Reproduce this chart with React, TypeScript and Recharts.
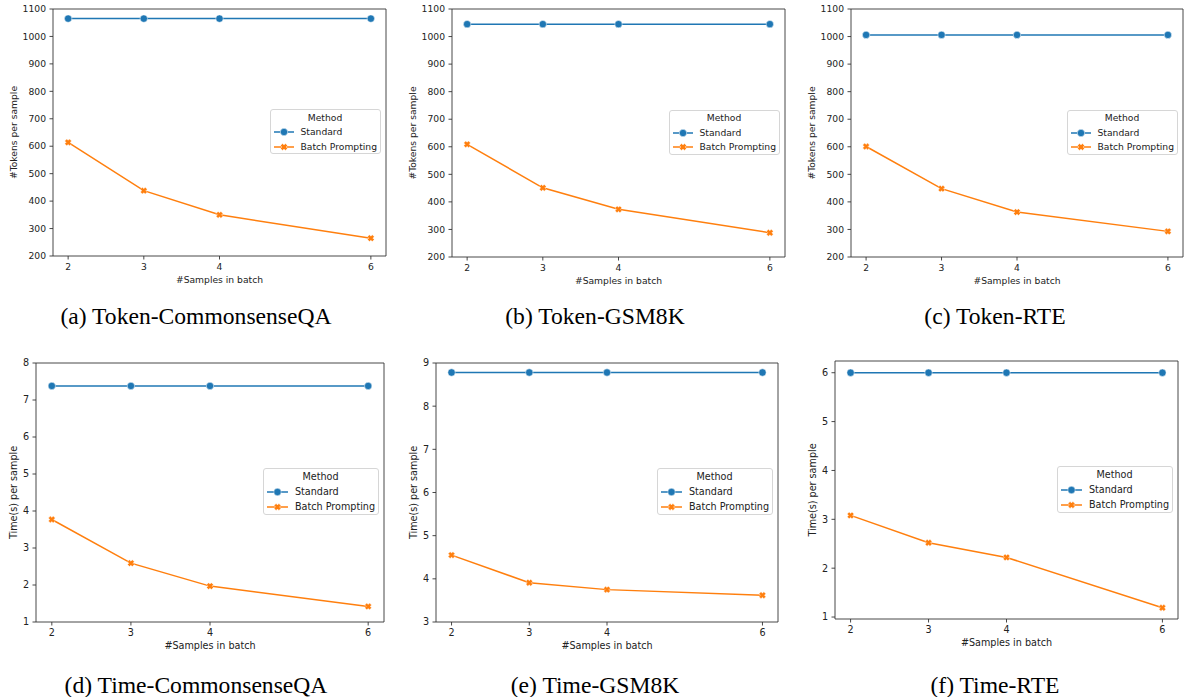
import React from 'react';
import { LineChart, Line, XAxis, YAxis, ReferenceArea, Legend } from 'recharts';

// x values shared by every panel
const batchSizes = [2, 3, 4, 6];
const xTicks = [2, 3, 4, 6];

// token counts per sample
const tokenCsqaStandard = [1065, 1065, 1065, 1065];
const tokenCsqaBatch = [614, 438, 350, 265];
const tokenGsmStandard = [1045, 1045, 1045, 1045];
const tokenGsmBatch = [609, 451, 373, 288];
const tokenRteStandard = [1006, 1006, 1006, 1006];
const tokenRteBatch = [601, 448, 363, 293];

// seconds per sample
const timeCsqaStandard = [7.38, 7.38, 7.38, 7.38];
const timeCsqaBatch = [3.77, 2.59, 1.97, 1.42];
const timeGsmStandard = [8.78, 8.78, 8.78, 8.78];
const timeGsmBatch = [4.55, 3.91, 3.75, 3.62];
const timeRteStandard = [6.0, 6.0, 6.0, 6.0];
const timeRteBatch = [3.08, 2.52, 2.22, 1.19];

const tokenTicks = [200, 300, 400, 500, 600, 700, 800, 900, 1000, 1100];
const csqaTimeTicks = [1, 2, 3, 4, 5, 6, 7, 8];
const gsmTimeTicks = [3, 4, 5, 6, 7, 8, 9];
const rteTimeTicks = [1, 2, 3, 4, 5, 6];

const seriesNames = ['Standard', 'Batch Prompting'];
const legendTitle = 'Method';
const xLabel = '#Samples in batch';

const BLUE = '#1f77b4';
const ORANGE = '#ff7f0e';
const INK = '#333333';
const TEXT = '#222222';
const FONT = '"DejaVu Sans", sans-serif';
const SERIF = '"Liberation Serif", "Times New Roman", serif';

const X_DOMAIN: [number, number] = [1.8, 6.2];

const panels = [
  { caption: '(a) Token-CommonsenseQA', yLabel: '#Tokens per sample', standard: tokenCsqaStandard, batch: tokenCsqaBatch, yDomain: [200, 1100], yTicks: tokenTicks, l: 53, t: 9, w: 333, h: 247, labelOff: 39.5, fs: 9.2, capX: 196, capTop: 305 },
  { caption: '(b) Token-GSM8K', yLabel: '#Tokens per sample', standard: tokenGsmStandard, batch: tokenGsmBatch, yDomain: [200, 1100], yTicks: tokenTicks, l: 452, t: 9, w: 333, h: 248, labelOff: 39.5, fs: 9.2, capX: 595, capTop: 305 },
  { caption: '(c) Token-RTE', yLabel: '#Tokens per sample', standard: tokenRteStandard, batch: tokenRteBatch, yDomain: [200, 1100], yTicks: tokenTicks, l: 851, t: 9, w: 332, h: 248, labelOff: 39.5, fs: 9.2, capX: 995, capTop: 305 },
  { caption: '(d) Time-CommonsenseQA', yLabel: 'Time(s) per sample', standard: timeCsqaStandard, batch: timeCsqaBatch, yDomain: [1, 8], yTicks: csqaTimeTicks, l: 36, t: 363, w: 348, h: 259, labelOff: 23, fs: 9.65, capX: 196, capTop: 673.5 },
  { caption: '(e) Time-GSM8K', yLabel: 'Time(s) per sample', standard: timeGsmStandard, batch: timeGsmBatch, yDomain: [3, 9], yTicks: gsmTimeTicks, l: 436, t: 363, w: 342, h: 259, labelOff: 23, fs: 9.65, capX: 595, capTop: 673.5 },
  { caption: '(f) Time-RTE', yLabel: 'Time(s) per sample', standard: timeRteStandard, batch: timeRteBatch, yDomain: [0.96, 6.24], yTicks: rteTimeTicks, l: 835, t: 361, w: 343, h: 258, labelOff: 23, fs: 9.65, capX: 995, capTop: 673.5 },
];

// filled "X" marker, like matplotlib's 'X'
const xPath = (cx: number, cy: number, s: number) => {
  const L = 1, w = 0.42;
  const pts = [[w, w], [w, L], [-w, L], [-w, w], [-L, w], [-L, -w], [-w, -w], [-w, -L], [w, -L], [w, -w], [L, -w], [L, w]];
  const c = Math.SQRT1_2;
  return pts.map(([x, y], i) => `${i ? 'L' : 'M'}${cx + s * (x - y) * c},${cy + s * (x + y) * c}`).join('') + 'Z';
};

const circleDot = (props: any) => {
  const { cx, cy, index } = props;
  if (cx == null || cy == null) return <g key={`c-${index}`} />;
  return <circle key={`c-${index}`} cx={cx} cy={cy} r={3.7} fill={BLUE} stroke="#fff" strokeWidth={0.5} />;
};

const crossDot = (props: any) => {
  const { cx, cy, index } = props;
  if (cx == null || cy == null) return <g key={`x-${index}`} />;
  return <path key={`x-${index}`} d={xPath(cx, cy, 3.4)} fill={ORANGE} stroke="#fff" strokeWidth={0.4} />;
};

const MethodLegend = ({ fs, w, h }: { fs: number; w: number; h: number }) => {
  const k = fs / 9.2;
  const rows = [
    { name: seriesNames[0], color: BLUE, kind: 'circle', cy: 22 * k },
    { name: seriesNames[1], color: ORANGE, kind: 'x', cy: 36.5 * k },
  ];
  const hw = 20 * k;
  return (
    <div style={{ position: 'relative', width: w, height: h, boxSizing: 'border-box', border: '1px solid #d6d6d6', borderRadius: 3, background: 'rgba(255,255,255,0.85)', fontFamily: FONT, fontSize: fs, color: TEXT }}>
      <div style={{ position: 'absolute', left: 0, width: '100%', top: 7.8 * k - 7, height: 14, lineHeight: '14px', textAlign: 'center' }}>{legendTitle}</div>
      {rows.map((r) => (
        <div key={r.name} style={{ position: 'absolute', left: 3 * k, top: r.cy - 7, height: 14, display: 'flex', alignItems: 'center', whiteSpace: 'nowrap' }}>
          <svg width={hw} height={14} style={{ display: 'block' }}>
            <line x1={0} x2={hw} y1={7} y2={7} stroke={r.color} strokeWidth={1.5} />
            {r.kind === 'circle' ? (
              <circle cx={hw / 2} cy={7} r={3.7} fill={r.color} stroke="#fff" strokeWidth={0.5} />
            ) : (
              <path d={xPath(hw / 2, 7, 3.4)} fill={r.color} stroke="#fff" strokeWidth={0.4} />
            )}
          </svg>
          <span style={{ marginLeft: 7 * k, lineHeight: '14px' }}>{r.name}</span>
        </div>
      ))}
    </div>
  );
};

const Panel = ({ p }: { p: (typeof panels)[number] }) => {
  const data = batchSizes.map((n, i) => ({ n, standard: p.standard[i], batch: p.batch[i] }));
  const W = p.w + 70;
  const H = p.h + 50;
  const k = p.fs / 9.2;
  const legendW = Math.round(111 * k);
  const legendH = Math.round(45 * k);
  const tickStyle = { fill: TEXT, fontSize: p.fs, fontFamily: FONT };

  const XTitle = () => (
    <text x={60 + p.w / 2} y={10 + p.h + 23.5} textAnchor="middle" dominantBaseline="central" fill={TEXT} fontSize={p.fs} fontFamily={FONT}>
      {xLabel}
    </text>
  );
  const yx = 60 - p.labelOff;
  const yy = 10 + p.h / 2;
  const YTitle = () => (
    <text x={yx} y={yy} transform={`rotate(-90, ${yx}, ${yy})`} textAnchor="middle" dominantBaseline="central" fill={TEXT} fontSize={p.fs} fontFamily={FONT}>
      {p.yLabel}
    </text>
  );

  return (
    <div style={{ position: 'absolute', left: p.l - 60, top: p.t - 10 }}>
      <LineChart width={W} height={H} data={data} margin={{ top: 10, right: 10, bottom: 0, left: 0 }}>
        <XAxis
          type="number"
          dataKey="n"
          domain={X_DOMAIN}
          ticks={xTicks}
          allowDataOverflow
          height={40}
          axisLine={false}
          tickLine={{ stroke: INK, strokeWidth: 0.9 }}
          tickSize={3.5}
          tickMargin={3.5}
          tick={tickStyle}
          label={<XTitle />}
        />
        <YAxis
          type="number"
          domain={p.yDomain}
          ticks={p.yTicks}
          allowDataOverflow
          width={60}
          axisLine={false}
          tickLine={{ stroke: INK, strokeWidth: 0.9 }}
          tickSize={3.5}
          tickMargin={3.5}
          tick={tickStyle}
          label={<YTitle />}
        />
        <ReferenceArea x1={X_DOMAIN[0]} x2={X_DOMAIN[1]} y1={p.yDomain[0]} y2={p.yDomain[1]} fill="none" fillOpacity={0} stroke={INK} strokeWidth={0.9} ifOverflow="visible" />
        <Line type="linear" dataKey="standard" name={seriesNames[0]} stroke={BLUE} strokeWidth={1.5} dot={circleDot} activeDot={false} isAnimationActive={false} />
        <Line type="linear" dataKey="batch" name={seriesNames[1]} stroke={ORANGE} strokeWidth={1.5} dot={crossDot} activeDot={false} isAnimationActive={false} />
        <Legend
          layout="vertical"
          align="center"
          verticalAlign="middle"
          content={() => <MethodLegend fs={p.fs} w={legendW} h={legendH} />}
          wrapperStyle={{ left: 60 + p.w - 5.5 - legendW, top: 10 + p.h / 2 - legendH / 2 - 1, width: legendW, height: legendH, right: 'auto', bottom: 'auto' }}
        />
      </LineChart>
    </div>
  );
};

export default function App() {
  return (
    <div style={{ position: 'absolute', left: 0, top: 0, width: 1186, height: 697, overflow: 'hidden', background: '#fff' }}>
      {panels.map((p) => (
        <Panel key={p.caption} p={p} />
      ))}
      {panels.map((p) => (
        <div
          key={`cap-${p.caption}`}
          style={{ position: 'absolute', left: p.capX - 200, top: p.capTop, width: 400, textAlign: 'center', whiteSpace: 'nowrap', fontFamily: SERIF, fontSize: 23.6, lineHeight: '1', color: '#000' }}
        >
          {p.caption}
        </div>
      ))}
    </div>
  );
}
